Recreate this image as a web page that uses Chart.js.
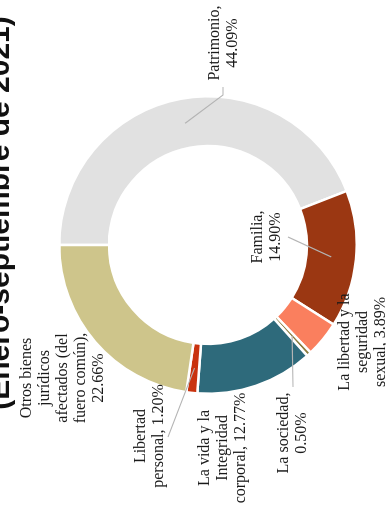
<!DOCTYPE html>
<html>
<head>
<meta charset="utf-8">
<script src="https://cdn.jsdelivr.net/npm/chart.js@4.4.0/dist/chart.umd.min.js"></script>
<style>
  html, body { margin: 0; padding: 0; background: #fff; overflow: hidden; }
  #wrap {
    position: absolute; left: 0; top: 0;
    width: 508px; height: 386px;
    transform-origin: 0 0;
    transform: translate(0, 508px) rotate(-90deg);
  }
</style>
</head>
<body>
<div id="wrap"><canvas id="grafica" width="508" height="386"></canvas></div>
<script>
// datos
const categorias = [
  "Patrimonio",
  "Familia",
  "La libertad y la seguridad sexual",
  "La sociedad",
  "La vida y la Integridad corporal",
  "Libertad personal",
  "Otros bienes jurídicos afectados (del fuero común)"
];
const porcentajes = [44.09, 14.90, 3.89, 0.50, 12.77, 1.20, 22.66];
// texto de cada etiqueta, {p} = porcentaje
const lineasEtiqueta = [
  ["Patrimonio,", "{p}"],
  ["Familia,", "{p}"],
  ["La libertad y la", "seguridad", "sexual, {p}"],
  ["La sociedad,", "{p}"],
  ["La vida y la", "Integridad", "corporal, {p}"],
  ["Libertad", "personal, {p}"],
  ["Otros bienes", "jurídicos", "afectados (del", "fuero común),", "{p}"]
];
const titulo = "(Enero-septiembre de 2021)";

const colores = ["#e1e1e1", "#9b3712", "#fa7f5e", "#8a7b3c", "#2e6a7b", "#c9330f", "#cec58b"];

// donde va cada etiqueta (desplazamiento desde el centro de la dona)
const colocacion = [
  { tx: 202, ty: 15.5, guia: [[150, 15], [158, 15]] },
  { tx: 8, ty: 58.5, guia: [[8, 80]] },
  { tx: -97, ty: 154.5, guia: null },
  { tx: -188, ty: 85, guia: [[-142, 85]] },
  { tx: -203, ty: 14.5, guia: null },
  { tx: -191, ty: -58, guia: [[-192, -40]] },
  { tx: -133, ty: -145, guia: null }
];

const etiquetasPlugin = {
  id: "etiquetas",
  afterDatasetsDraw(chart) {
    const ctx = chart.ctx;
    const arcos = chart.getDatasetMeta(0).data;
    ctx.save();
    arcos.forEach((arco, i) => {
      const p = arco.getProps(["x", "y", "startAngle", "endAngle", "innerRadius", "outerRadius"], true);
      const cx = p.x, cy = p.y;
      const medio = (p.startAngle + p.endAngle) / 2;
      const rm = (p.innerRadius + p.outerRadius) / 2;
      const c = colocacion[i];
      if (c.guia) {
        ctx.strokeStyle = "#b4b4b4";
        ctx.lineWidth = 1.2;
        ctx.beginPath();
        ctx.moveTo(cx + rm * Math.cos(medio), cy + rm * Math.sin(medio));
        c.guia.forEach(pt => ctx.lineTo(cx + pt[0], cy + pt[1]));
        ctx.stroke();
      }
      const lineas = lineasEtiqueta[i].map(t => t.replace("{p}", porcentajes[i].toFixed(2) + "%"));
      ctx.fillStyle = "#1a1a1a";
      ctx.font = '16px "Liberation Serif", "Times New Roman", serif';
      ctx.textAlign = "center";
      ctx.textBaseline = "middle";
      const lh = 18;
      lineas.forEach((t, k) => {
        ctx.fillText(t, cx + c.tx, cy + c.ty + (k - (lineas.length - 1) / 2) * lh);
      });
    });
    ctx.restore();
  },
  afterDraw(chart) {
    const ctx = chart.ctx;
    ctx.save();
    ctx.fillStyle = "#111";
    ctx.font = 'bold 30px "Liberation Sans", Arial, sans-serif';
    ctx.textAlign = "center";
    ctx.textBaseline = "alphabetic";
    ctx.fillText(titulo, 295, 9);
    ctx.restore();
  }
};

new Chart(document.getElementById("grafica"), {
  type: "doughnut",
  data: {
    labels: categorias,
    datasets: [{
      data: porcentajes,
      backgroundColor: colores,
      borderColor: "#ffffff",
      borderWidth: 2.5
    }]
  },
  options: {
    responsive: false,
    devicePixelRatio: 1,
    animation: false,
    cutout: "66.5%",
    layout: { padding: { top: 58, bottom: 28, left: 113, right: 95 } },
    plugins: {
      legend: { display: false },
      title: { display: false },
      tooltip: { enabled: false }
    }
  },
  plugins: [etiquetasPlugin]
});
</script>
</body>
</html>
